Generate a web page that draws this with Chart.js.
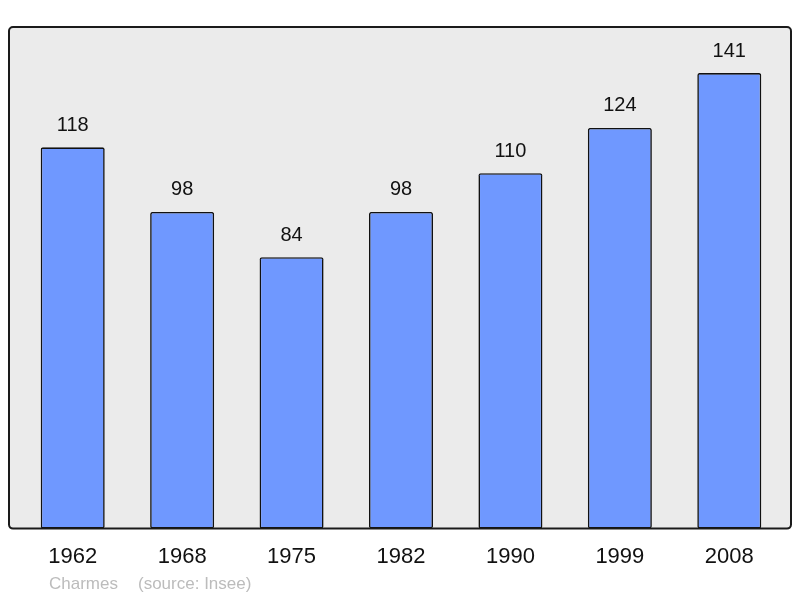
<!DOCTYPE html>
<html>
<head>
<meta charset="utf-8">
<script src="https://cdn.jsdelivr.net/npm/chart.js@4"></script>
<style>
  html, body { margin: 0; padding: 0; background: #fff; }
  #wrap { width: 800px; height: 598px; }
</style>
</head>
<body>
<div id="wrap"><canvas id="chart1" width="800" height="598"></canvas></div>
<script>
const years = ['1962', '1968', '1975', '1982', '1990', '1999', '2008'];
const population = [118, 98, 84, 98, 110, 124, 141];
const townName = 'Charmes';
const sourceNote = '(source: Insee)';

// grey frame behind the bars
const frame = {
  id: 'frame',
  beforeDraw(chart) {
    const { ctx, chartArea } = chart;
    const x0 = 9, x1 = 791, y0 = chartArea.top - 0.8, y1 = chartArea.bottom;
    ctx.save();
    ctx.beginPath();
    ctx.roundRect(x0, y0, x1 - x0, y1 - y0, 4);
    ctx.fillStyle = '#ebebeb';
    ctx.fill();
    ctx.restore();
  },
  afterDatasetsDraw(chart) {
    const { ctx, chartArea } = chart;
    const x0 = 9, x1 = 791, y0 = chartArea.top - 0.8, y1 = chartArea.bottom;
    ctx.save();
    ctx.beginPath();
    ctx.roundRect(x0, y0, x1 - x0, y1 - y0, 4);
    ctx.lineWidth = 2;
    ctx.strokeStyle = '#1a1a1a';
    ctx.stroke();
    ctx.restore();
  },
};

// numbers above bars + footer
const labels = {
  id: 'labels',
  afterDraw(chart) {
    const { ctx } = chart;
    const meta = chart.getDatasetMeta(0);
    ctx.save();
    ctx.font = '20px "Liberation Sans", Arial, sans-serif';
    ctx.fillStyle = '#111';
    ctx.textAlign = 'center';
    ctx.textBaseline = 'middle';
    meta.data.forEach((bar, i) => {
      ctx.fillText(String(population[i]), bar.x, bar.y - 22);
    });
    ctx.font = '17px "Liberation Sans", Arial, sans-serif';
    ctx.fillStyle = '#bcbcbc';
    ctx.textAlign = 'left';
    ctx.fillText(townName, 49, 584);
    ctx.fillText(sourceNote, 138, 584);
    ctx.restore();
  },
};

const ctx = document.getElementById('chart1').getContext('2d');
const chart1 = new Chart(ctx, {
  type: 'bar',
  data: {
    labels: years,
    datasets: [{
      data: population,
      backgroundColor: '#6f98ff',
      borderColor: '#111',
      borderWidth: 1.6,
      borderRadius: 2,
      borderSkipped: false,
      barPercentage: 0.585,
      categoryPercentage: 1,
    }],
  },
  options: {
    responsive: false,
    animation: false,
    devicePixelRatio: 1,
    layout: { padding: { left: 18, right: 16, top: 27.8, bottom: 21 } },
    plugins: { legend: { display: false }, tooltip: { enabled: false } },
    scales: {
      x: {
        grid: { display: false },
        border: { display: false },
        ticks: {
          color: '#111',
          padding: 7,
          font: { family: '"Liberation Sans", Arial, sans-serif', size: 22 },
        },
      },
      y: { display: false, min: 0, max: 155 },
    },
  },
  plugins: [frame, labels],
});
</script>
</body>
</html>
